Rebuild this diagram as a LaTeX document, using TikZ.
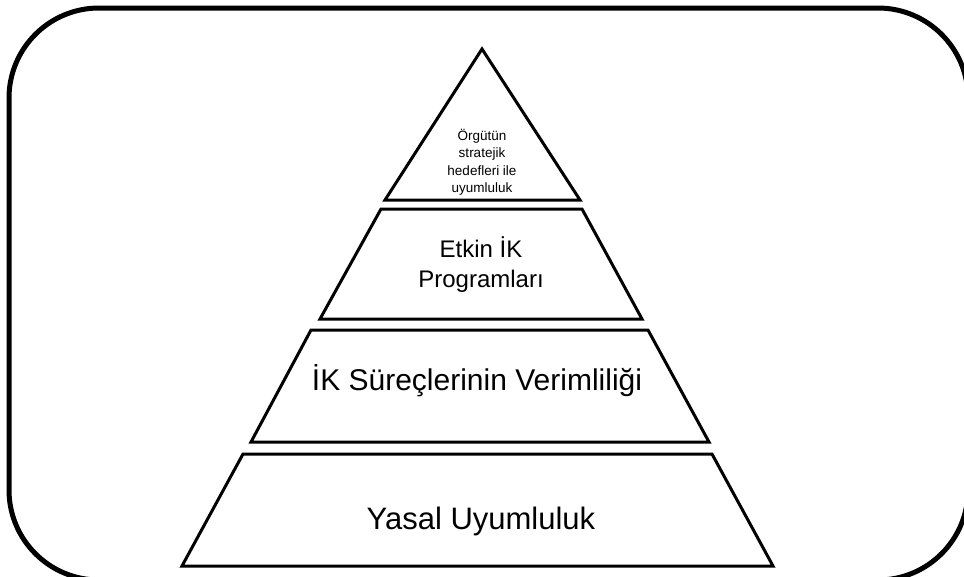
\documentclass[tikz,border=0pt]{standalone}
\usepackage{fontspec}
\setmainfont{Liberation Sans}
\begin{document}
\begin{tikzpicture}[x=1pt,y=-1pt,
  level/.style={draw=black,line width=3pt,line join=miter},
  lbl/.style={align=center,inner sep=0pt,text=black}]
\useasboundingbox (0,0) rectangle (964,576);
\clip (0,0) rectangle (964,576);
% outer frame
\draw[line width=5pt,rounded corners=90pt] (9,8) rectangle (968,580);
% pyramid
\draw[level] (482,49) -- (580,200) -- (385,200) -- cycle;
\draw[level] (381,209) -- (582,209) -- (642,319) -- (320,319) -- cycle;
\draw[level] (311,330) -- (648,330) -- (709,442) -- (251,442) -- cycle;
\draw[level] (243,454) -- (712,454) -- (773,566) -- (182,566) -- cycle;
% labels
\node[lbl,font=\fontsize{13.5}{17.5}\selectfont] (t1) at (482,162) {Örgütün\\stratejik\\hedefleri ile\\uyumluluk};
\node[lbl,font=\fontsize{24}{30}\selectfont] (t2) at (481,265) {Etkin İK\\Programları};
\node[lbl,font=\fontsize{30}{36}\selectfont] (t3) at (477,381) {İK Süreçlerinin Verimliliği};
\node[lbl,font=\fontsize{31}{36}\selectfont] (t4) at (481,521) {Yasal Uyumluluk};
\end{tikzpicture}
\end{document}
